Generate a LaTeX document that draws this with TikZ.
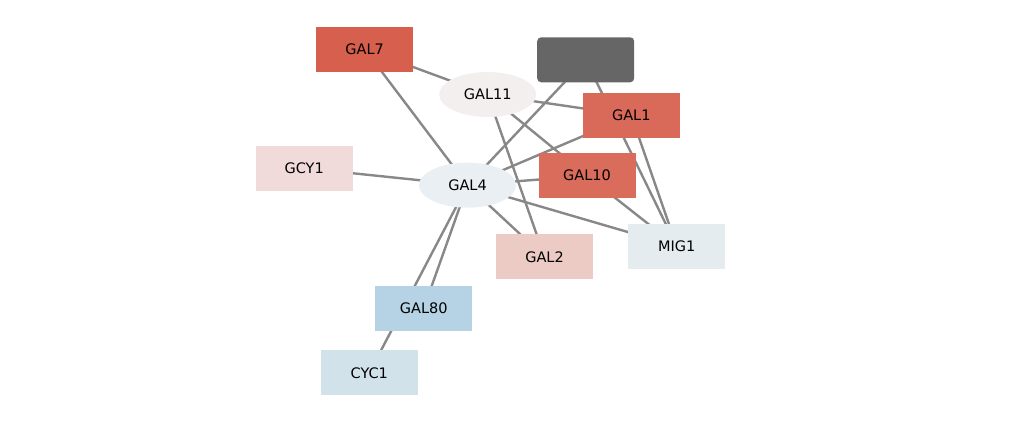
\documentclass[tikz,border=0pt]{standalone}
\usepackage{fontspec}
\setmainfont{DejaVu Sans}
\usetikzlibrary{shapes.geometric,backgrounds}
\definecolor{cGALseven}{HTML}{D65F4D}
\definecolor{cGALone}{HTML}{D96A59}
\definecolor{cGALten}{HTML}{D96C5B}
\definecolor{cGCY}{HTML}{F1DADA}
\definecolor{cGALtwo}{HTML}{EDCBC5}
\definecolor{cMIG}{HTML}{E4ECF0}
\definecolor{cGALeighty}{HTML}{B5D3E4}
\definecolor{cCYC}{HTML}{D2E2EB}
\definecolor{cGALeleven}{HTML}{F4EFEF}
\definecolor{cGALfour}{HTML}{E9EFF2}
\definecolor{cDark}{HTML}{666666}
\definecolor{cEdge}{HTML}{888888}
\tikzset{
  genebox/.style={rectangle, minimum width=97pt, minimum height=45pt, inner sep=0pt, font=\fontsize{14.5}{16}\selectfont},
  geneell/.style={ellipse, minimum width=97pt, minimum height=45pt, inner sep=0pt, font=\fontsize{14.5}{16}\selectfont},
  link/.style={draw=cEdge, line width=2.4pt}
}
\begin{document}
\begin{tikzpicture}[x=1pt,y=-1pt]
\useasboundingbox (0,0) rectangle (1034,422);
\node[genebox, fill=cGALseven] (GAL7) at (364.7,49.2) {GAL7};
\node[genebox, fill=cDark, rounded corners=4pt] (DARK) at (585.7,59.8) {};
\node[geneell, fill=cGALeleven] (GAL11) at (487.7,94.5) {GAL11};
\node[genebox, fill=cGALone] (GAL1) at (631.3,115.5) {GAL1};
\node[genebox, fill=cGCY] (GCY1) at (304.2,168.2) {GCY1};
\node[geneell, fill=cGALfour] (GAL4) at (467.5,185.2) {GAL4};
\node[genebox, fill=cGALten] (GAL10) at (587,175.7) {GAL10};
\node[genebox, fill=cGALtwo] (GAL2) at (544.5,256.8) {GAL2};
\node[genebox, fill=cMIG] (MIG1) at (676.7,246.3) {MIG1};
\node[genebox, fill=cGALeighty] (GAL80) at (423.8,308.2) {GAL80};
\node[genebox, fill=cCYC] (CYC1) at (369.3,372.8) {CYC1};
\begin{scope}[on background layer]
\draw[link] (GAL7.center) -- (GAL11.center);
\draw[link] (GAL7.center) -- (GAL4.center);
\draw[link] (GAL11.center) -- (GAL1.center);
\draw[link] (GAL11.center) -- (GAL10.center);
\draw[link] (GAL11.center) -- (GAL2.center);
\draw[link] (DARK.center) -- (GAL4.center);
\draw[link] (DARK.center) -- (MIG1.center);
\draw[link] (GAL1.center) -- (GAL4.center);
\draw[link] (GAL1.center) -- (MIG1.center);
\draw[link] (GAL4.center) -- (GCY1.center);
\draw[link] (GAL4.center) -- (GAL10.center);
\draw[link] (GAL4.center) -- (MIG1.center);
\draw[link] (GAL4.center) -- (GAL2.center);
\draw[link] (GAL4.center) -- (GAL80.center);
\draw[link] (GAL4.center) -- (CYC1.center);
\draw[link] (GAL10.center) -- (MIG1.center);
\end{scope}
\end{tikzpicture}
\end{document}
